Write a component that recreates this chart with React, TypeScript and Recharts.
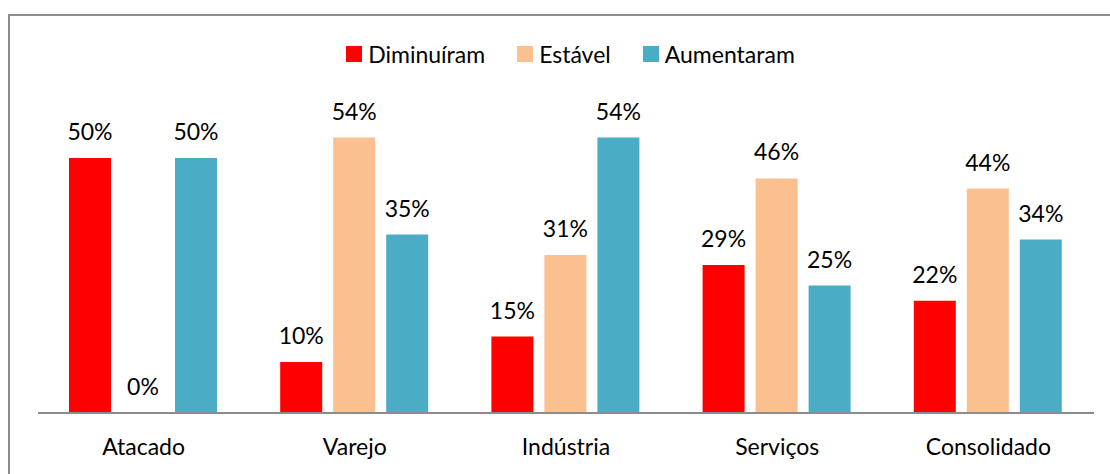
import React from "react"
import { BarChart, Bar, XAxis, YAxis, LabelList } from "recharts"

const categories = ["Atacado", "Varejo", "Indústria", "Serviços", "Consolidado"]
const diminuiram = [50, 10, 15, 29, 22]
const estavel = [0, 54, 31, 46, 44]
const aumentaram = [50, 35, 54, 25, 34]

const seriesInfo = [
  { key: "diminuiram", name: "Diminuíram", color: "#FF0000" },
  { key: "estavel", name: "Estável", color: "#FAC090" },
  { key: "aumentaram", name: "Aumentaram", color: "#4BACC6" },
]

const data = categories.map((c, i) => ({
  name: c,
  diminuiram: diminuiram[i],
  estavel: estavel[i],
  aumentaram: aumentaram[i],
}))

const FONT = "Lato, 'Open Sans', sans-serif"

function ChartLegend() {
  return (
    <div
      style={{
        position: "absolute",
        left: 0,
        top: 38,
        width: 1110,
        display: "flex",
        justifyContent: "center",
        alignItems: "center",
        gap: 32,
        paddingLeft: 31,
        boxSizing: "border-box",
        fontFamily: FONT,
        fontSize: 23,
        lineHeight: "32px",
        color: "#000",
      }}
    >
      {seriesInfo.map((s) => (
        <div key={s.key} style={{ display: "flex", alignItems: "center", gap: 6 }}>
          <span style={{ width: 16, height: 16, background: s.color, display: "inline-block" }} />
          <span>{s.name}</span>
        </div>
      ))}
    </div>
  )
}

export default function App() {
  return (
    <div style={{ position: "absolute", left: 0, top: 0, width: 1110, height: 474, background: "#fff", overflow: "hidden" }}>
      <div
        style={{
          position: "absolute",
          left: 8,
          top: 14,
          width: 1200,
          height: 600,
          borderLeft: "2px solid #8c8c8c",
          borderTop: "2px solid #8c8c8c",
        }}
      />
      <div style={{ position: "absolute", left: 0, top: 0 }}>
        <BarChart
          width={1110}
          height={474}
          data={data}
          margin={{ top: 107, right: 16, bottom: 0, left: 38 }}
          barCategoryGap={31}
          barGap={11}
        >
          <XAxis
            dataKey="name"
            height={61}
            tickLine={false}
            tickMargin={20}
            axisLine={{ stroke: "#8c8c8c", strokeWidth: 2 }}
            tick={{ fontSize: 23, fill: "#000", fontFamily: FONT }}
          />
          <YAxis hide domain={[0, 60]} width={0} />
          {seriesInfo.map((s) => (
            <Bar
              key={s.key}
              dataKey={s.key}
              name={s.name}
              fill={s.color}
              minPointSize={(v: any) => (v === 0 ? 0.01 : 0)}
              isAnimationActive={false}
            >
              <LabelList
                dataKey={s.key}
                position="top"
                offset={18}
                formatter={(v: any) => `${v}%`}
                style={{ fontSize: 23, fill: "#000", fontFamily: FONT }}
              />
            </Bar>
          ))}
        </BarChart>
      </div>
      <ChartLegend />
    </div>
  )
}
